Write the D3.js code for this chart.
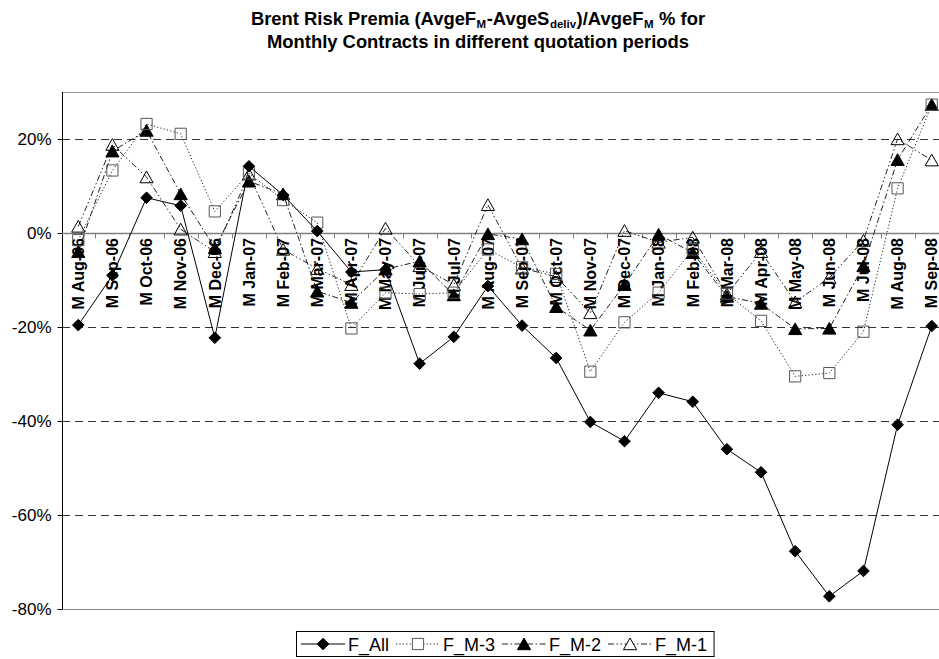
<!DOCTYPE html>
<html><head><meta charset="utf-8">
<script src="https://cdn.jsdelivr.net/npm/d3@7"></script>
<style>
html,body{margin:0;padding:0;background:#fff;}
svg{display:block;font-family:"Liberation Sans",Arial,sans-serif;}
</style></head>
<body>
<svg id="chart" width="939" height="659"></svg>
<script>
const categories = ["M Aug-06","M Sep-06","M Oct-06","M Nov-06","M Dec-06","M Jan-07","M Feb-07","M Mar-07","M Apr-07","M May-07","M Jun-07","M Jul-07","M Aug-07","M Sep-07","M Oct-07","M Nov-07","M Dec-07","M Jan-08","M Feb-08","M Mar-08","M Apr-08","M May-08","M Jun-08","M Jul-08","M Aug-08","M Sep-08"];
const fAll = [-19.6,-9.0,7.5,5.8,-22.3,14.2,8.1,0.4,-8.3,-7.8,-27.8,-22.1,-11.3,-19.7,-26.6,-40.2,-44.3,-34.0,-35.9,-46.0,-50.9,-67.7,-77.3,-71.9,-40.8,-19.8];
const fM3 = [-1.5,13.3,23.2,21.1,4.6,12.7,7.0,2.2,-20.3,-12.7,-13.0,-12.7,-3.5,-7.3,-8.7,-29.5,-19.0,-12.7,-3.5,-12.9,-18.7,-30.5,-29.8,-21.0,9.5,27.3];
const fM2 = [-4.0,17.4,21.8,8.3,-3.2,11.0,8.3,-12.4,-14.8,-7.7,-6.0,-13.2,-0.2,-1.3,-15.7,-20.7,-11.0,-0.3,-4.2,-13.5,-15.0,-20.4,-20.3,-7.0,15.6,27.3];
const fM1 = [1.4,18.8,11.9,0.8,-4.0,12.5,-3.5,-7.6,-11.0,1.0,-7.0,-11.0,6.0,-7.5,-9.3,-17.0,0.5,-2.0,-0.9,-13.0,-4.0,-14.7,-9.5,-1.6,20.0,15.5];
const yTicks = [-80,-60,-40,-20,0,20];
const seriesNames = ["F_All","F_M-3","F_M-2","F_M-1"];

const svg = d3.select("#chart");
const x = d3.scaleBand().domain(categories).range([61.2, 948.8]).paddingInner(0).paddingOuter(0);
const y = d3.scaleLinear().domain([-80, 30]).range([609, 92]);
const cx = c => x(c) + x.bandwidth()/2;

// gridlines
svg.append("g").selectAll("line").data(yTicks.filter(v => v !== 0)).join("line")
  .attr("x1", 62).attr("x2", 939)
  .attr("y1", d => Math.round(y(d)) + 0.5).attr("y2", d => Math.round(y(d)) + 0.5)
  .attr("stroke", d => d === -80 ? "#888" : "#333").attr("stroke-width", 1)
  .attr("stroke-dasharray", d => d === -80 ? null : "8,5");
// top border
svg.append("line").attr("x1", 62).attr("x2", 939).attr("y1", 92.5).attr("y2", 92.5).attr("stroke", "#999");

// y axis
const yAxis = d3.axisLeft(y).tickValues(yTicks).tickFormat(d => d + "%").tickSize(5).tickPadding(6);
const yg = svg.append("g").attr("transform", "translate(62.5,0)").call(yAxis);
yg.select(".domain").attr("stroke", "#000").attr("d", "M0," + y(30) + "V" + y(-80));
yg.selectAll(".tick line").attr("stroke", "#000");
yg.selectAll("text").attr("font-size", 17).attr("fill", "#000").attr("font-family", "Liberation Sans, Arial, sans-serif");

// x axis at zero
const xAxis = d3.axisBottom(x).tickSize(0).tickFormat("");
const xg = svg.append("g").attr("transform", "translate(0," + (Math.round(y(0)) + 0.5) + ")").call(xAxis);
xg.select(".domain").remove();
xg.append("line").attr("x1", 62).attr("x2", 939).attr("stroke", "#808080").attr("stroke-width", 1.6);
xg.selectAll(".bnd").data(categories).join("line").attr("class", "bnd")
  .attr("x1", d => Math.round(x(d) + x.bandwidth()) + 0.5).attr("x2", d => Math.round(x(d) + x.bandwidth()) + 0.5)
  .attr("y1", 0).attr("y2", 5).attr("stroke", "#808080");

// x labels (rotated)
svg.append("g").selectAll("text").data(categories).join("text")
  .attr("transform", d => "translate(" + cx(d) + "," + (y(0) + 5) + ") rotate(-90)")
  .attr("text-anchor", "end").attr("dy", "0.36em")
  .attr("font-size", 16).attr("font-weight", "bold").attr("fill", "#000")
  .text(d => d);

// marker paths
const diamond = s => `M0,${-s}L${s},0L0,${s}L${-s},0Z`;
const square = s => `M${-s},${-s}H${s}V${s}H${-s}Z`;
const triangle = s => `M0,${-s}L${s*1.1},${s*0.95}L${-s*1.1},${s*0.95}Z`;

const series = [
  {name: seriesNames[0], values: fAll, dash: null, lineColor: "#000", marker: diamond(5.8), fill: "#000", stroke: "#000"},
  {name: seriesNames[1], values: fM3, dash: "1.2,2.2", lineColor: "#222", marker: square(5.6), fill: "none", stroke: "#555"},
  {name: seriesNames[2], values: fM2, dash: "6,2.5,1.5,2.5", lineColor: "#222", marker: triangle(6), fill: "#000", stroke: "#000"},
  {name: seriesNames[3], values: fM1, dash: "6,2.5,1.5,2.5,1.5,2.5", lineColor: "#222", marker: triangle(6), fill: "none", stroke: "#000"}
];

const line = d3.line().x(d => cx(d.c)).y(d => y(d.v));
const plotOrder = [3, 2, 1, 0];
plotOrder.forEach(i => {
  const s = series[i];
  const pts = categories.map((c, k) => ({c: c, v: s.values[k]}));
  const g = svg.append("g");
  g.append("path").datum(pts).attr("d", line).attr("fill", "none")
    .attr("stroke", s.lineColor).attr("stroke-width", 1).attr("stroke-dasharray", s.dash);
  g.selectAll("path.m").data(pts).join("path").attr("class", "m")
    .attr("transform", d => "translate(" + cx(d.c) + "," + y(d.v) + ")")
    .attr("d", s.marker).attr("fill", s.fill).attr("stroke", s.stroke).attr("stroke-width", 1);
});

// title
const title = svg.append("text").attr("text-anchor", "middle").attr("font-weight", "bold").attr("font-size", 18.4).attr("fill", "#000");
const t1 = title.append("tspan").attr("x", 478).attr("y", 25);
t1.append("tspan").text("Brent Risk Premia (AvgeF");
t1.append("tspan").attr("font-size", 11.5).attr("baseline-shift", "-3").attr("dx", 0.5).text("M");
t1.append("tspan").attr("dx", 0.5).text("-AvgeS");
t1.append("tspan").attr("font-size", 11.5).attr("baseline-shift", "-3").attr("dx", 0.5).text("deliv");
t1.append("tspan").attr("dx", 0.5).text(")/AvgeF");
t1.append("tspan").attr("font-size", 11.5).attr("baseline-shift", "-3").attr("dx", 0.5).text("M");
t1.append("tspan").attr("dx", 0.5).text(" % for");
title.append("tspan").attr("x", 478).attr("y", 48).text("Monthly Contracts in different quotation periods");

// legend
const lg = svg.append("g");
const box = lg.append("rect").attr("y", 631.5).attr("height", 25).attr("fill", "#fff").attr("stroke", "#000").attr("stroke-width", 1);
let xpos = 301;
const legY = 644;
series.forEach(s => {
  lg.append("line").attr("x1", xpos).attr("x2", xpos + 44).attr("y1", legY).attr("y2", legY)
    .attr("stroke", s.lineColor).attr("stroke-width", 1).attr("stroke-dasharray", s.dash);
  lg.append("path").attr("transform", "translate(" + (xpos + 22) + "," + legY + ")")
    .attr("d", s.marker).attr("fill", s.fill === "none" ? "#fff" : s.fill).attr("stroke", s.stroke);
  const t = lg.append("text").attr("x", xpos + 47).attr("y", legY + 6.5).attr("font-size", 18).attr("fill", "#000").text(s.name);
  const w = t.node().getComputedTextLength();
  xpos = xpos + 47 + w + 7;
});
box.attr("x", 296.5).attr("width", xpos - 296.5);
</script>
</body></html>
